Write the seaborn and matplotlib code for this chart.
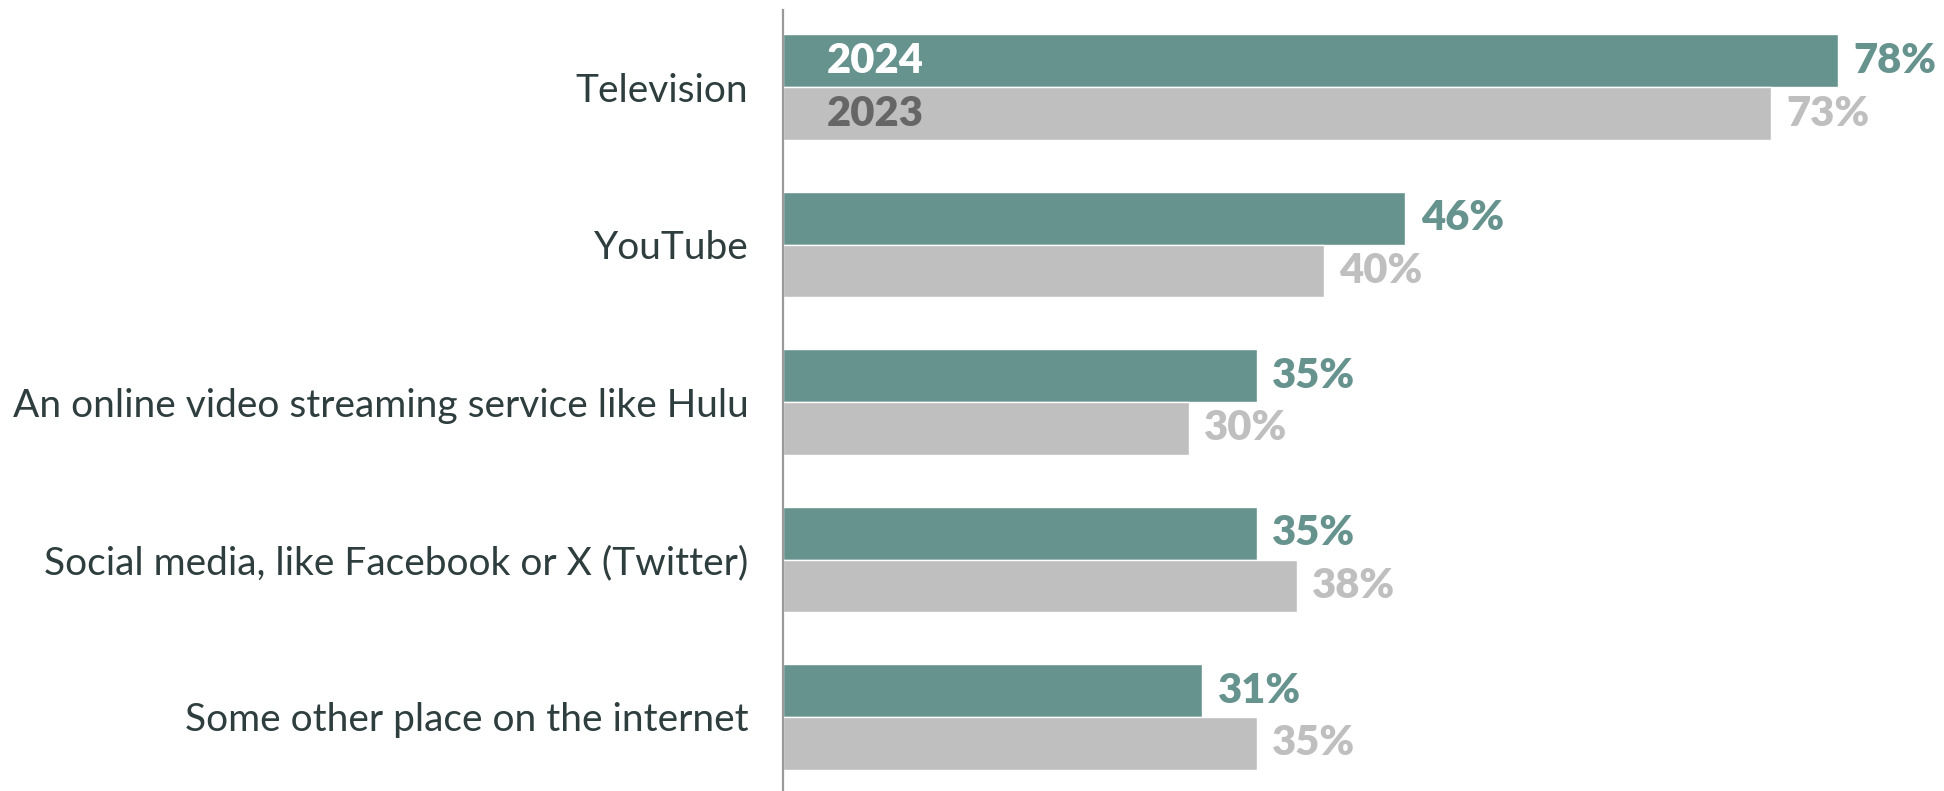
import matplotlib
matplotlib.use("Agg")
import matplotlib.pyplot as plt
import seaborn as sns
import pandas as pd

# Share of respondents by source, two survey years
categories = [
    "Television",
    "YouTube",
    "An online video streaming service like Hulu",
    "Social media, like Facebook or X (Twitter)",
    "Some other place on the internet",
]
values_2024 = [78, 46, 35, 35, 31]
values_2023 = [73, 40, 30, 38, 35]
years = ["2024", "2023"]

df = pd.DataFrame({
    "source": categories * 2,
    "pct": values_2024 + values_2023,
    "year": [years[0]] * len(categories) + [years[1]] * len(categories),
})

TEAL = "#67938F"
GREY = "#BFBFBF"

sns.set_theme(style="white")
plt.rcParams["font.family"] = ["Lato", "DejaVu Sans"]

W, H, DPI = 1944, 791, 100
fig = plt.figure(figsize=(W / DPI, H / DPI), dpi=DPI)
left_px, top_px = 783, 10
ax = fig.add_axes([left_px / W, 0, (W - left_px) / W, (H - top_px) / H])

sns.barplot(
    data=df, y="source", x="pct", hue="year", hue_order=years,
    palette=[TEAL, GREY], orient="h", width=0.67, gap=0,
    saturation=1, legend=False, ax=ax,
)

px_per_pct = 13.53
ax.set_xlim(0, (W - left_px) / px_per_pct)
ax.set_ylim(4.47, -0.49)

# value labels beside each bar
label_colors = [TEAL, GREY]
for cont, col in zip(ax.containers, label_colors):
    ax.bar_label(cont, labels=[f"{v:.0f}%" for v in cont.datavalues],
                 padding=11, color=col, fontsize=30, fontweight="heavy",
                 family=["Lato", "DejaVu Sans"])

# year markers inside the first pair of bars
inner_colors = ["white", "#666666"]
for cont, yr, col in zip(ax.containers, years, inner_colors):
    bar = cont.patches[0]
    ax.text(3.2, bar.get_y() + bar.get_height() / 2, yr, color=col,
            fontsize=30, fontweight="heavy", va="center", ha="left")

ax.set_xlabel("")
ax.set_ylabel("")
ax.set_xticks([])
ax.tick_params(axis="y", length=0, pad=25, labelsize=28, labelcolor="#2E3D3D")
for lab in ax.get_yticklabels():
    lab.set_fontweight("normal")

for side in ["top", "right", "bottom"]:
    ax.spines[side].set_visible(False)
ax.spines["left"].set_color("#999999")
ax.spines["left"].set_linewidth(1.6)

fig.savefig("out.png", dpi=DPI)
